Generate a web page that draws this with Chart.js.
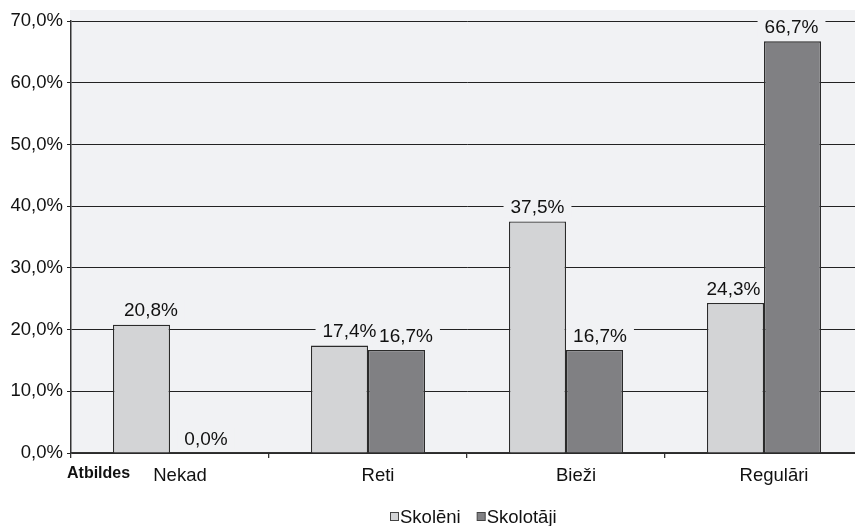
<!DOCTYPE html>
<html>
<head>
<meta charset="utf-8">
<script src="https://cdn.jsdelivr.net/npm/chart.js@4/dist/chart.umd.min.js"></script>
<style>
  html, body { margin: 0; padding: 0; background: #ffffff; overflow: hidden; }
  #wrap { width: 855px; height: 526px; overflow: hidden; }
  canvas { display: block; }
</style>
</head>
<body>
<div id="wrap"><canvas id="c" width="866" height="526"></canvas></div>
<script>
// Answer categories and shares (%) for pupils and teachers
const categories = ['Nekad', 'Reti', 'Bieži', 'Regulāri'];
const skoleni    = [20.8, 17.4, 37.5, 24.3];
const skolotaji  = [0.0, 16.7, 16.7, 66.7];
const seriesNames = ['Skolēni', 'Skolotāji'];
const yTicks = { min: 0, max: 70, step: 10 };

const FONT = '"Liberation Sans", Arial, sans-serif';
const PLOT_BG = '#f1f2f4';
const fmt = v => v.toFixed(1).replace('.', ',') + '%';

// Light grey panel behind the plot
const plotBackground = {
  id: 'plotBackground',
  beforeDraw(chart) {
    const { ctx, chartArea: a } = chart;
    ctx.save();
    ctx.fillStyle = PLOT_BG;
    ctx.fillRect(a.left - 1, a.top - 11, chart.width, a.bottom - a.top + 11);
    ctx.restore();
  }
};

// Value labels above each bar; a plot-coloured box masks the gridlines
function eachLabel(chart, opts, fn) {
  chart.data.datasets.forEach((ds, di) => {
    chart.getDatasetMeta(di).data.forEach((bar, i) => {
      fn(fmt(ds.data[i]), bar.x + (opts.nudge[di][i] || 0), bar.y - opts.offset);
    });
  });
}
const valueLabels = {
  id: 'valueLabels',
  beforeDatasetsDraw(chart, args, opts) {
    const { ctx } = chart;
    ctx.save();
    ctx.font = opts.size + 'px ' + FONT;
    ctx.fillStyle = PLOT_BG;
    eachLabel(chart, opts, (txt, x, y) => {
      const w = ctx.measureText(txt).width + 2 * opts.padX;
      const h = opts.size + 2;
      ctx.fillRect(x - w / 2, y - h / 2, w, h);
    });
    ctx.restore();
  },
  afterDatasetsDraw(chart, args, opts) {
    const { ctx } = chart;
    ctx.save();
    ctx.font = opts.size + 'px ' + FONT;
    ctx.textAlign = 'center';
    ctx.textBaseline = 'middle';
    ctx.fillStyle = '#111';
    eachLabel(chart, opts, (txt, x, y) => ctx.fillText(txt, x, y + 1));
    ctx.restore();
  }
};

// Legend row and the "Atbildes" caption
const extraText = {
  id: 'extraText',
  afterDraw(chart, args, opts) {
    const { ctx } = chart;
    ctx.save();
    ctx.textBaseline = 'middle';
    ctx.textAlign = 'left';
    ctx.font = opts.legendSize + 'px ' + FONT;
    let x = opts.legendX;
    const y = opts.legendY;
    chart.data.datasets.forEach(ds => {
      ctx.fillStyle = ds.backgroundColor;
      ctx.fillRect(x + 0.5, y - 4.5, 8, 8);
      ctx.strokeStyle = '#444';
      ctx.lineWidth = 1;
      ctx.strokeRect(x + 0.5, y - 4.5, 8, 8);
      ctx.fillStyle = '#111';
      ctx.fillText(ds.label, x + 10, y + 1);
      x += 10 + ctx.measureText(ds.label).width + opts.legendGap;
    });
    ctx.font = 'bold ' + opts.captionSize + 'px ' + FONT;
    ctx.fillText(opts.caption, opts.captionX, opts.captionY);
    ctx.restore();
  }
};

new Chart(document.getElementById('c'), {
  type: 'bar',
  data: {
    labels: categories,
    datasets: [
      { label: seriesNames[0], data: skoleni, backgroundColor: '#d3d4d6',
        borderColor: '#2b2b2b', borderWidth: 1.3 },
      { label: seriesNames[1], data: skolotaji, backgroundColor: '#808083',
        borderColor: '#2b2b2b', borderWidth: 1.3 }
    ]
  },
  options: {
    responsive: false,
    animation: false,
    devicePixelRatio: 1,
    layout: { padding: { top: 21, right: 3, left: 0, bottom: 0 } },
    datasets: { bar: { categoryPercentage: 0.576, barPercentage: 1.0 } },
    plugins: {
      legend: { display: false },
      tooltip: { enabled: false },
      valueLabels: {
        size: 19, offset: 14.5, padX: 7,
        nudge: [[9.5, 10, 0, -2], [7.5, 9.5, 5.5, -1]]
      },
      extraText: {
        legendX: 390, legendY: 517, legendSize: 18.5, legendGap: 16,
        caption: 'Atbildes', captionX: 67, captionY: 474, captionSize: 16
      }
    },
    scales: {
      x: {
        afterFit(s) { s.height = 73; },
        grid: { drawOnChartArea: false, offset: true, tickLength: 5, color: '#333', lineWidth: 1.3 },
        border: { display: true, color: '#333', width: 1.5 },
        ticks: { color: '#111', padding: 7, labelOffset: 10, font: { family: FONT, size: 18.5 } }
      },
      y: {
        min: yTicks.min, max: yTicks.max,
        afterFit(s) { s.width = 71; },
        grid: { color: '#222', lineWidth: 1, tickLength: 4 },
        border: { display: true, color: '#333', width: 1.5 },
        ticks: { stepSize: yTicks.step, color: '#111', padding: 4,
                 font: { family: FONT, size: 18.5 }, callback: v => fmt(v) }
      }
    }
  },
  plugins: [plotBackground, valueLabels, extraText]
});
</script>
</body>
</html>
